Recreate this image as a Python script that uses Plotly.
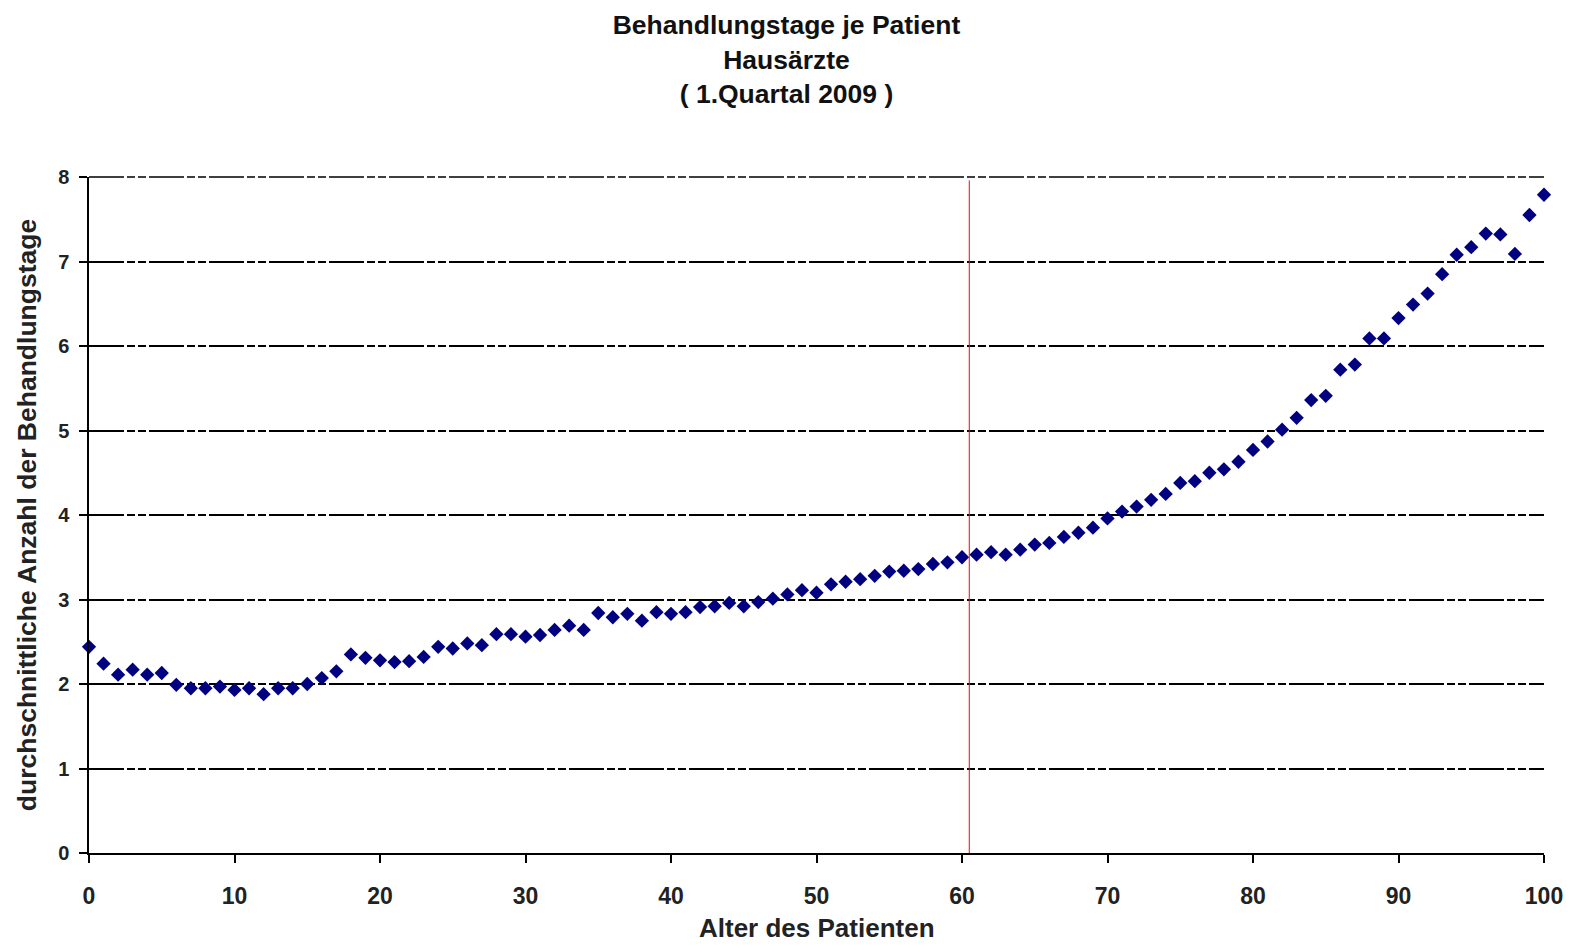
import plotly.graph_objects as go

ages = list(range(0, 101))
behandlungstage = [
    2.44, 2.24, 2.11, 2.17, 2.11, 2.13, 1.99, 1.95, 1.95, 1.97,
    1.93, 1.95, 1.88, 1.95, 1.95, 2.00, 2.07, 2.15, 2.35, 2.31,
    2.28, 2.26, 2.27, 2.32, 2.44, 2.42, 2.48, 2.46, 2.59, 2.59,
    2.56, 2.58, 2.64, 2.69, 2.64, 2.84, 2.79, 2.83, 2.75, 2.85,
    2.83, 2.85, 2.91, 2.92, 2.96, 2.92, 2.97, 3.01, 3.06, 3.11,
    3.08, 3.18, 3.21, 3.24, 3.28, 3.33, 3.34, 3.36, 3.42, 3.44,
    3.50, 3.53, 3.56, 3.53, 3.59, 3.65, 3.67, 3.74, 3.79, 3.85,
    3.96, 4.04, 4.10, 4.18, 4.25, 4.38, 4.40, 4.50, 4.54, 4.63,
    4.77, 4.87, 5.01, 5.15, 5.36, 5.41, 5.72, 5.78, 6.09, 6.09,
    6.33, 6.49, 6.62, 6.85, 7.08, 7.17, 7.33, 7.32, 7.09, 7.55,
    7.79,
]
x_ticks = [0, 10, 20, 30, 40, 50, 60, 70, 80, 90, 100]
y_ticks = [0, 1, 2, 3, 4, 5, 6, 7, 8]
marker_line_age = 60.5
y_max = 8

title_text = "Behandlungstage je Patient<br>Hausärzte<br>( 1.Quartal 2009 )"
x_title = "Alter des Patienten"
y_title = "durchschnittliche Anzahl der Behandlungstage"

font_family = "Liberation Sans, Arial, sans-serif"
grid_dash = "35px,3px,8px,3px,8px,3px"

fig = go.Figure()
fig.add_trace(go.Scatter(
    x=ages, y=behandlungstage, mode="markers",
    marker=dict(symbol="diamond", size=11, color="#000080",
                line=dict(width=0)),
    cliponaxis=False, showlegend=False,
))

# top gridline (plotly omits the gridline lying on the plot edge)
fig.add_shape(type="line", xref="paper", yref="paper",
              x0=0, x1=1, y0=1, y1=1,
              line=dict(color="black", width=1.6, dash=grid_dash),
              layer="above")

fig.add_shape(type="line", xref="x", yref="y",
              x0=marker_line_age, x1=marker_line_age, y0=0, y1=7.96,
              line=dict(color="#ff0000", width=1), layer="above")

# x-axis title as annotation for exact placement
fig.add_annotation(text=x_title, xref="paper", yref="paper",
                   x=0.5, y=-0.111, xanchor="center", yanchor="middle",
                   showarrow=False,
                   font=dict(size=26, weight="bold", color="#222222"))

fig.update_layout(
    width=1557, height=936,
    paper_bgcolor="white", plot_bgcolor="white",
    margin=dict(l=81, r=21, t=169, b=91),
    font=dict(family=font_family, color="black"),
    title=dict(text=title_text, x=0.5, xref="container", xanchor="center",
               y=0.972, yref="container", yanchor="top",
               font=dict(size=26.5, weight="bold", family=font_family,
                         color="#111111")),
    xaxis=dict(range=[0, 100], tickvals=x_ticks, showgrid=False,
               automargin=False,
               zeroline=False, showline=True, linecolor="black", linewidth=1.5,
               ticks="outside", ticklen=8, tickwidth=1.5, tickcolor="black",
               ticklabelstandoff=14,
               tickfont=dict(size=23, weight="bold", color="#222222")),
    yaxis=dict(range=[0, y_max], tickvals=y_ticks, showgrid=True,
               automargin=False,
               gridcolor="black", gridwidth=1.6,
               griddash=grid_dash,
               zeroline=False, showline=True, linecolor="black", linewidth=1.5,
               ticks="outside", ticklen=8, tickwidth=1.5, tickcolor="black",
               ticklabelstandoff=6,
               tickfont=dict(size=20, weight="bold", color="#222222"),
               title=dict(text=y_title,
                          font=dict(size=26.5, weight="bold", color="#222222"),
                          standoff=14)),
)

fig.write_html("out.html")
